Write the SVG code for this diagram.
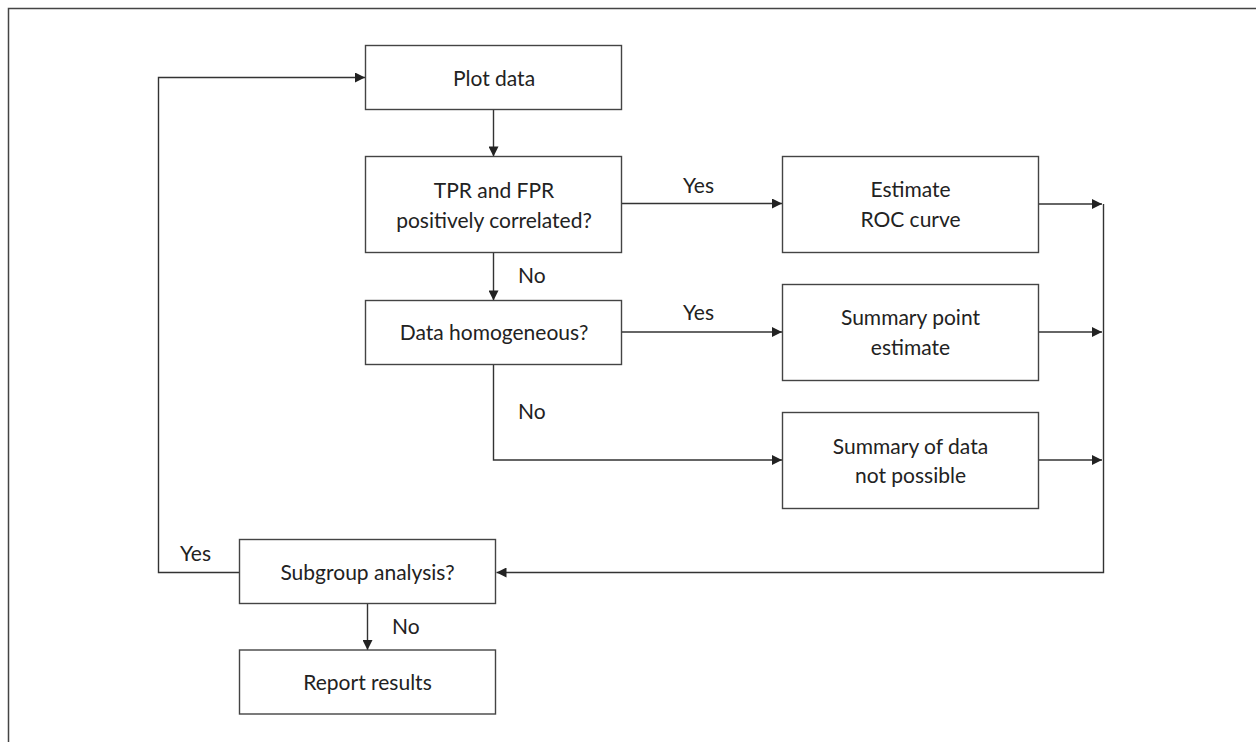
<svg xmlns="http://www.w3.org/2000/svg" width="1256" height="742" viewBox="0 0 1256 742">
<defs>
<marker id="ah" viewBox="0 0 10 10" refX="10" refY="5" markerWidth="11" markerHeight="10" markerUnits="userSpaceOnUse" orient="auto">
<path d="M0,0 L10,5 L0,10 z" fill="#222"/>
</marker>
<style>
.box{fill:#fff;stroke:#444;stroke-width:1.4}
.t{font-family:Lato,"Open Sans","Liberation Sans",sans-serif;font-size:21px;fill:#222;text-anchor:middle}
.l{font-family:Lato,"Open Sans","Liberation Sans",sans-serif;font-size:21px;fill:#222}
.c{fill:none;stroke:#333;stroke-width:1.4}
.a{marker-end:url(#ah)}
</style>
</defs>
<rect width="1256" height="742" fill="#fff"/>
<rect x="8.5" y="8.5" width="1300" height="800" fill="none" stroke="#444" stroke-width="1.5"/>
<g id="connectors">
<path class="c a" d="M239.5,572.5 H158.5 V77.5 H365"/>
<path class="c a" d="M493.5,109.5 V156.5"/>
<path class="c a" d="M621.5,203.5 H782"/>
<path class="c a" d="M493.5,252.5 V300.5"/>
<path class="c a" d="M621.5,332 H782"/>
<path class="c a" d="M493.5,364.5 V460 H782"/>
<path class="c a" d="M1038.5,204 H1102"/>
<path class="c a" d="M1038.5,332 H1102"/>
<path class="c a" d="M1038.5,460 H1102"/>
<path class="c a" d="M1103.5,204 V572.5 H496.5"/>
<path class="c a" d="M367.5,603 V650"/>
<text class="l" x="683" y="193">Yes</text>
<text class="l" x="683" y="320">Yes</text>
<text class="l" x="518" y="283">No</text>
<text class="l" x="518" y="419">No</text>
<text class="l" x="180" y="561">Yes</text>
<text class="l" x="392" y="634">No</text>
</g>
<g id="plot-data">
<rect class="box" x="365.5" y="45.5" width="256" height="64"/>
<text class="t" x="494" y="86">Plot data</text>
</g>
<g id="tpr-fpr">
<rect class="box" x="365.5" y="156.5" width="256" height="96"/>
<text class="t" x="494" y="198">TPR and FPR</text>
<text class="t" x="494" y="228">positively correlated?</text>
</g>
<g id="data-homogeneous">
<rect class="box" x="365.5" y="300.5" width="256" height="64"/>
<text class="t" x="494" y="340">Data homogeneous?</text>
</g>
<g id="estimate-roc">
<rect class="box" x="782.5" y="156.5" width="256" height="96"/>
<text class="t" x="910.5" y="197">Estimate</text>
<text class="t" x="910.5" y="227">ROC curve</text>
</g>
<g id="summary-point">
<rect class="box" x="782.5" y="284.5" width="256" height="96"/>
<text class="t" x="910.5" y="325">Summary point</text>
<text class="t" x="910.5" y="355">estimate</text>
</g>
<g id="summary-not-possible">
<rect class="box" x="782.5" y="412.5" width="256" height="96"/>
<text class="t" x="910.5" y="454">Summary of data</text>
<text class="t" x="910.5" y="483">not possible</text>
</g>
<g id="subgroup">
<rect class="box" x="239.5" y="539.5" width="256" height="64"/>
<text class="t" x="367.5" y="580">Subgroup analysis?</text>
</g>
<g id="report">
<rect class="box" x="239.5" y="650" width="256" height="64"/>
<text class="t" x="367.5" y="690">Report results</text>
</g>
</svg>
